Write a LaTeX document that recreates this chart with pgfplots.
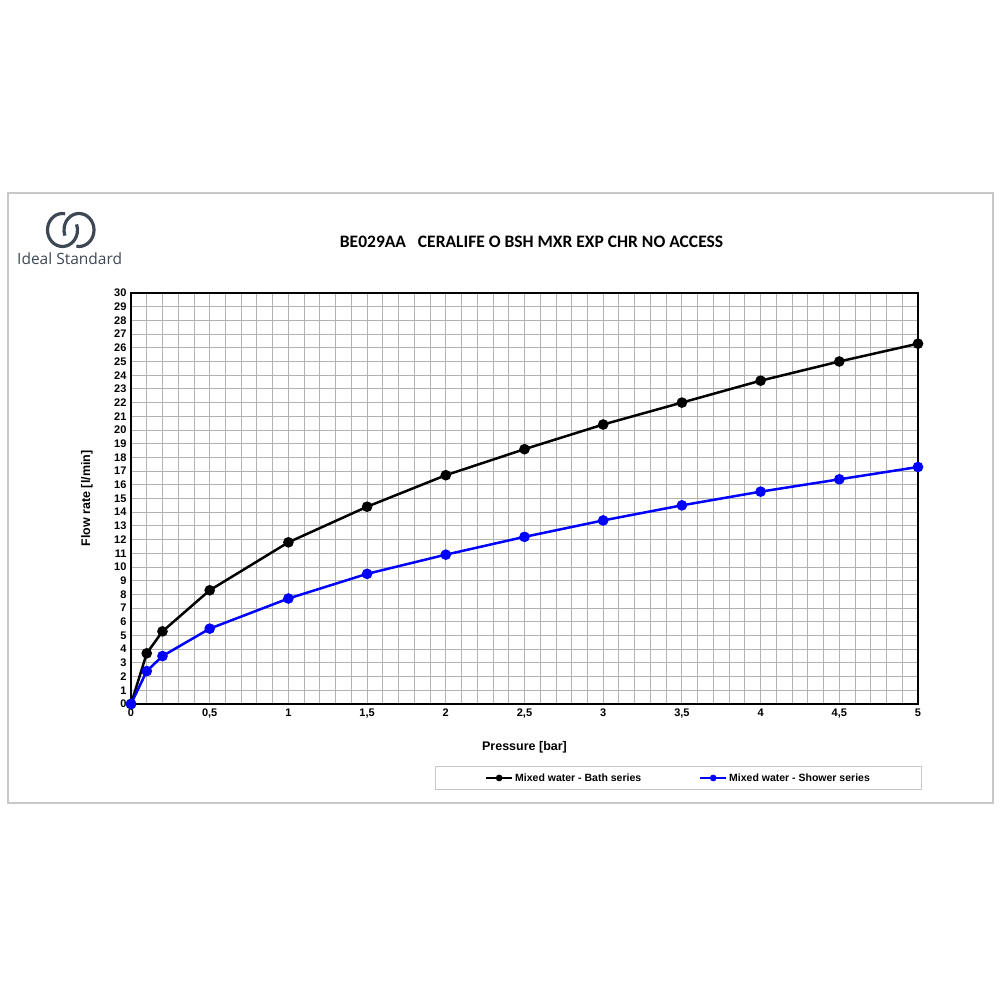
\documentclass[border=0pt]{standalone}
\usepackage{fontspec}
\setmainfont{Liberation Sans}
\newfontfamily\titlefont{Carlito}
\newfontfamily\logofont{Open Sans}
\usepackage{pgfplots}
\pgfplotsset{compat=1.18}
\definecolor{gridgray}{RGB}{178,178,178}
\definecolor{framegray}{RGB}{200,200,200}
\definecolor{logogray}{RGB}{62,72,84}
\definecolor{serblue}{RGB}{0,0,255}
\pgfplotstableread{
x y
0 0
0.1 3.7
0.2 5.3
0.5 8.3
1 11.8
1.5 14.4
2 16.7
2.5 18.6
3 20.4
3.5 22.0
4 23.6
4.5 25.0
5 26.3
}\bath
\pgfplotstableread{
x y
0 0
0.1 2.4
0.2 3.5
0.5 5.5
1 7.7
1.5 9.5
2 10.9
2.5 12.2
3 13.4
3.5 14.5
4 15.5
4.5 16.4
5 17.3
}\shower
\begin{document}
\begin{tikzpicture}[x=1pt,y=1pt]
\path[use as bounding box] (0,0) rectangle (1000,1000);
\draw[framegray, line width=1.5pt] (8,197) rectangle (993,807);
\begin{scope}[logogray, line width=3.2pt]
\draw (62.5,770) ++(80:15 and 16.5) arc[start angle=80, end angle=380, x radius=15, y radius=16.5];
\draw (79,770) ++(260:15 and 16.5) arc[start angle=260, end angle=560, x radius=15, y radius=16.5];
\end{scope}
\node[logogray, font=\logofont\fontsize{15.5}{18}\selectfont, anchor=base west, inner sep=0pt] at (17,735) {Ideal Standard};
\node[font=\titlefont\bfseries\fontsize{17.5}{20}\selectfont] at (531.5,758) {BE029AA\ \ \ CERALIFE O BSH MXR EXP CHR NO ACCESS};
\begin{axis}[at={(131pt,296pt)}, anchor=south west, scale only axis,
  width=787pt, height=411pt,
  xmin=0, xmax=5, ymin=0, ymax=30,
  xtick={0,0.5,...,5},
  xticklabels={0,{0,5},1,{1,5},2,{2,5},3,{3,5},4,{4,5},5},
  minor xtick={0,0.1,...,5},
  ytick={0,1,...,30},
  grid=both,
  grid style={gridgray, line width=0.9pt},
  minor grid style={gridgray, line width=0.9pt},
  axis line style={black, line width=2.5pt},
  major tick length=0pt, minor tick length=0pt,
  /pgf/number format/assume math mode=true,
  tick label style={font=\bfseries\fontsize{11}{13}\selectfont},
  xticklabel style={yshift=-1pt},
  yticklabel style={xshift=-1pt},
  xlabel={Pressure [bar]}, ylabel={Flow rate [l/min]},
  label style={font=\bfseries\fontsize{12.5}{14}\selectfont},
  xlabel style={at={(axis description cs:0.5,-0.1046)}, anchor=center},
  ylabel style={at={(axis description cs:-0.0559,0.5)}, anchor=center},
  clip=false,
  legend columns=2,
  legend style={at={(axis description cs:0.6957,-0.180)}, anchor=center,
    draw=framegray, line width=1.2pt, inner xsep=50pt, inner ysep=5pt,
    font=\bfseries\fontsize{10.5}{12}\selectfont,
    /tikz/every even column/.append style={column sep=56pt}},
  legend image code/.code={\draw[mark repeat=2, mark phase=2, mark size=2.3pt, line width=2pt] plot coordinates {(0pt,0pt) (13pt,0pt) (26pt,0pt)};},
]
\addplot[black, line width=2.5pt, mark=*, mark size=4pt] table[x=x,y=y] {\bath};
\addlegendentry{Mixed water - Bath series}
\addplot[serblue, line width=2.5pt, mark=*, mark size=4pt, mark options={fill=serblue}] table[x=x,y=y] {\shower};
\addlegendentry{Mixed water - Shower series}
\end{axis}
\end{tikzpicture}
\end{document}
